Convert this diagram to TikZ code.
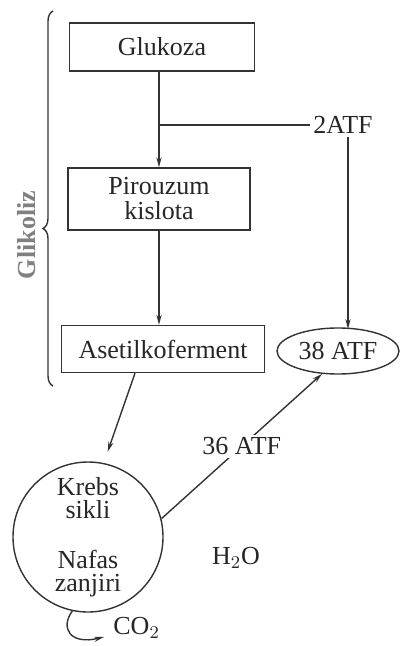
\documentclass[tikz,border=0pt]{standalone}
\usepackage{fontspec}
\setmainfont{Liberation Serif}
\usetikzlibrary{positioning,arrows.meta,calc,shapes.geometric,decorations.pathreplacing}

\begin{document}
\begin{tikzpicture}[x=0.5pt, y=-0.5pt, font=\fontsize{13}{12.5}\selectfont,
  ink/.style={draw=black!80, line width=0.7pt},
  stagebox/.style={ink, rectangle, inner sep=0pt, align=center, text=black!85},
  arr/.style={ink, -{Stealth[length=5pt,width=2.6pt]}},
  lbl/.style={text=black!85, inner sep=1.5pt}]
% Aerobic breakdown of glucose: glycolysis, then Krebs cycle and respiratory chain
\useasboundingbox (0,0) rectangle (403,646);

\node[stagebox, minimum width=92.5pt, minimum height=24pt] (glu) at (162,47) {Glukoza};
\node[stagebox, minimum width=91pt, minimum height=31pt] (pir) at (159,199) {Pirouzum\\kislota};
\node[stagebox, minimum width=101.5pt, minimum height=23.5pt] (aset) at (163,349) {Asetilkoferment};
\node[ink, ellipse, minimum width=61pt, minimum height=23pt, inner sep=0pt, text=black!85] (atf38) at (338,351) {38 ATF};
\node[ink, circle, minimum size=75pt, inner sep=0pt, align=center, text=black!85,
      font=\fontsize{13}{11.5}\selectfont] (krebs) at (88,537) {Krebs\\sikli\\[13.5pt]Nafas\\zanjiri};

\node[lbl] (atf2) at (343,125) {2ATF};
\node[lbl] (water) at (236,558) {H$_2$O};
\node[lbl, anchor=west] (co2) at (110,628) {CO$_2$};
\node[rotate=90, text=black!50, font=\fontsize{13}{13}\selectfont\bfseries] (glik) at (27,235) {Glikoliz};

% glycolysis
\coordinate (branch) at (pir.north |- atf2);
\draw[arr] (pir.north |- glu.south) -- (pir.north);
\draw[ink] (branch) -- (atf2.west);
\draw[arr] (atf2.south -| 348,0) -- (348,329);
\draw[arr] (pir.south) -- (pir.south |- aset.north);
\draw[ink, decorate, decoration={brace, amplitude=5pt, aspect=0.42}] (53,386) -- (53,11);

% Krebs cycle and respiratory chain
\draw[arr, shorten >=6pt] ([xshift=-14pt]aset.south) -- (krebs.78);
\draw[arr] (krebs.14) -- node[fill=white, lbl] (atf36) {36 ATF} (atf38.235);
\draw[arr] (krebs.258) .. controls (60,628) and (70,645) .. (104,637);
\end{tikzpicture}
\end{document}
